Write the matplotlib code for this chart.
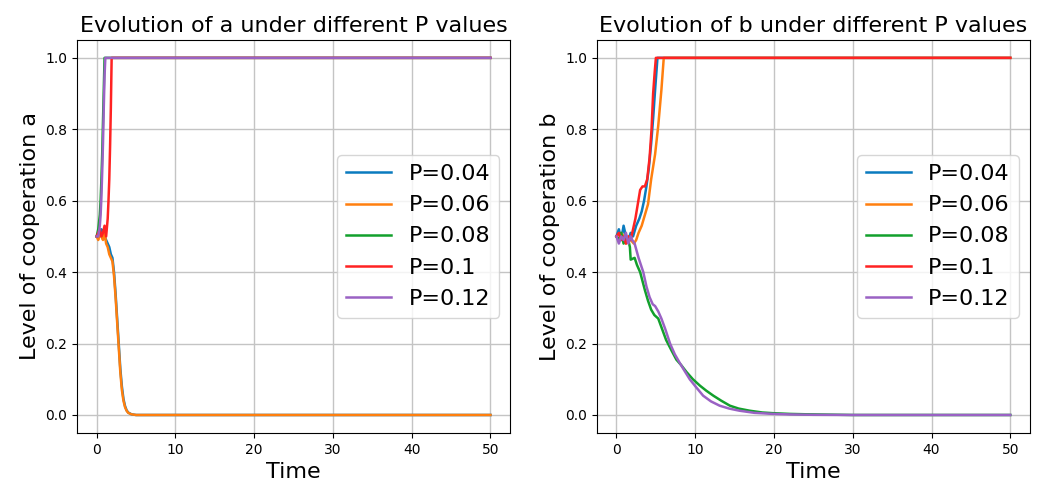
"""Evolution of cooperation levels a and b under different P values."""
import matplotlib
matplotlib.use("Agg")
import matplotlib.pyplot as plt

LABELS = ["P=0.04", "P=0.06", "P=0.08", "P=0.1", "P=0.12"]
COLORS = ["#0a7bbf", "#ff7f0e", "#12a02c", "#ff2222", "#9a62c4"]

# --- level of cooperation a ---
t_a_p004 = [0, 0.2, 0.4, 0.6, 0.8, 1.0, 1.2, 1.4, 1.6, 1.8, 2.0, 2.2, 2.4, 2.6, 2.8,
            3.0, 3.2, 3.4, 3.6, 3.8, 4.0, 4.4, 5.0, 50]
a_p004 = [0.50, 0.51, 0.50, 0.52, 0.51, 0.50, 0.49, 0.48, 0.47, 0.45, 0.44, 0.40, 0.34,
          0.27, 0.20, 0.13, 0.08, 0.045, 0.025, 0.013, 0.007, 0.002, 0.0, 0.0]
t_a_p006 = [0, 0.2, 0.4, 0.6, 0.8, 1.0, 1.2, 1.4, 1.6, 1.8, 2.0, 2.2, 2.4, 2.6, 2.8,
            3.0, 3.2, 3.4, 3.6, 3.8, 4.0, 4.4, 5.0, 50]
a_p006 = [0.50, 0.49, 0.51, 0.50, 0.49, 0.51, 0.48, 0.47, 0.45, 0.44, 0.43, 0.39, 0.33,
          0.26, 0.19, 0.12, 0.07, 0.04, 0.022, 0.012, 0.006, 0.002, 0.0, 0.0]
t_a_p008 = [0, 0.2, 0.4, 0.5, 0.6, 0.7, 0.8, 0.9, 1.0, 50]
a_p008 = [0.50, 0.52, 0.56, 0.60, 0.66, 0.73, 0.82, 0.91, 1.0, 1.0]
t_a_p010 = [0, 0.2, 0.4, 0.6, 0.8, 1.0, 1.2, 1.4, 1.5, 1.6, 1.7, 1.8, 1.9, 50]
a_p010 = [0.50, 0.51, 0.52, 0.50, 0.51, 0.53, 0.50, 0.55, 0.60, 0.66, 0.75, 0.86, 1.0, 1.0]
t_a_p012 = [0, 0.2, 0.4, 0.5, 0.6, 0.7, 0.8, 0.9, 1.0, 1.1, 50]
a_p012 = [0.50, 0.50, 0.53, 0.56, 0.61, 0.68, 0.76, 0.86, 0.95, 1.0, 1.0]

# --- level of cooperation b ---
t_b_p004 = [0, 0.3, 0.6, 0.9, 1.2, 1.5, 1.8, 2.1, 2.5, 2.9, 3.2, 3.5, 3.8, 4.1, 4.4,
            4.65, 4.9, 5.2, 50]
b_p004 = [0.50, 0.52, 0.49, 0.53, 0.50, 0.49, 0.51, 0.50, 0.53, 0.55, 0.57, 0.60, 0.64,
          0.69, 0.76, 0.83, 0.91, 1.0, 1.0]
t_b_p006 = [0, 0.3, 0.6, 0.9, 1.2, 1.5, 1.8, 2.2, 2.5, 2.8, 3.2, 3.6, 4.0, 4.4, 4.9,
            5.3, 5.7, 6.0, 50]
b_p006 = [0.50, 0.49, 0.51, 0.50, 0.48, 0.50, 0.49, 0.48, 0.49, 0.51, 0.53, 0.56, 0.59,
          0.66, 0.73, 0.81, 0.91, 1.0, 1.0]
t_b_p008 = [0, 0.3, 0.6, 0.9, 1.2, 1.5, 1.7, 1.8, 2.3, 2.6, 3.0, 3.6, 4.0, 4.4, 4.8,
            5.3, 5.8, 6.3, 7.0, 7.6, 8.2, 8.9, 9.7, 10.6, 11.4, 12.3, 13.3, 14.4, 15.5,
            16.9, 18.5, 19.9, 22, 24, 27, 30, 50]
b_p008 = [0.50, 0.49, 0.51, 0.48, 0.50, 0.49, 0.47, 0.435, 0.44, 0.42, 0.40, 0.35, 0.32,
          0.295, 0.28, 0.27, 0.24, 0.21, 0.18, 0.155, 0.14, 0.12, 0.10, 0.082, 0.068,
          0.054, 0.04, 0.026, 0.018, 0.012, 0.007, 0.005, 0.003, 0.002, 0.001, 0.0, 0.0]
t_b_p010 = [0, 0.3, 0.6, 0.9, 1.2, 1.5, 1.8, 2.1, 2.4, 2.7, 3.0, 3.3, 3.6, 3.9, 4.2,
            4.45, 4.65, 4.85, 5.0, 50]
b_p010 = [0.50, 0.51, 0.49, 0.50, 0.48, 0.50, 0.49, 0.52, 0.55, 0.59, 0.63, 0.64, 0.64,
          0.66, 0.72, 0.80, 0.90, 0.96, 1.0, 1.0]
t_b_p012 = [0, 0.3, 0.6, 0.9, 1.2, 1.5, 1.8, 2.0, 2.3, 2.8, 3.4, 3.8, 4.2, 4.6, 4.9,
            5.3, 5.7, 6.2, 6.8, 7.4, 8.0, 8.6, 9.3, 10.1, 11.0, 12.0, 13.1, 14.3, 15.6,
            17.5, 19.9, 22, 25, 30, 50]
b_p012 = [0.50, 0.48, 0.50, 0.49, 0.51, 0.48, 0.50, 0.49, 0.48, 0.44, 0.40, 0.36, 0.33,
          0.31, 0.305, 0.29, 0.27, 0.24, 0.20, 0.17, 0.147, 0.125, 0.10, 0.078, 0.054,
          0.038, 0.026, 0.018, 0.012, 0.006, 0.003, 0.0015, 0.0005, 0.0, 0.0]

SERIES_A = [(t_a_p004, a_p004), (t_a_p006, a_p006), (t_a_p008, a_p008),
            (t_a_p010, a_p010), (t_a_p012, a_p012)]
SERIES_B = [(t_b_p004, b_p004), (t_b_p006, b_p006), (t_b_p008, b_p008),
            (t_b_p010, b_p010), (t_b_p012, b_p012)]


def draw(ax, series, var):
    for (t, v), label, color in zip(series, LABELS, COLORS):
        ax.plot(t, v, label=label, color=color, linewidth=1.8)
    ax.set_title(f"Evolution of {var} under different P values", fontsize=16)
    ax.set_xlabel("Time", fontsize=16)
    ax.set_ylabel(f"Level of cooperation {var}", fontsize=16)
    ax.set_xticks([0, 10, 20, 30, 40, 50])
    ax.set_yticks([0.0, 0.2, 0.4, 0.6, 0.8, 1.0])
    ax.tick_params(labelsize=10)
    ax.grid(True, color="#c4c4c4", linewidth=1.0)
    ax.legend(loc="center right", fontsize=16)


def main():
    fig, axes = plt.subplots(1, 2, figsize=(10.46, 4.82), dpi=100)
    draw(axes[0], SERIES_A, "a")
    draw(axes[1], SERIES_B, "b")
    fig.subplots_adjust(left=0.0736, right=0.9847, bottom=0.102, top=0.917, wspace=0.2)
    fig.savefig("out.png", dpi=100)
    plt.close(fig)


if __name__ == "__main__":
    main()
